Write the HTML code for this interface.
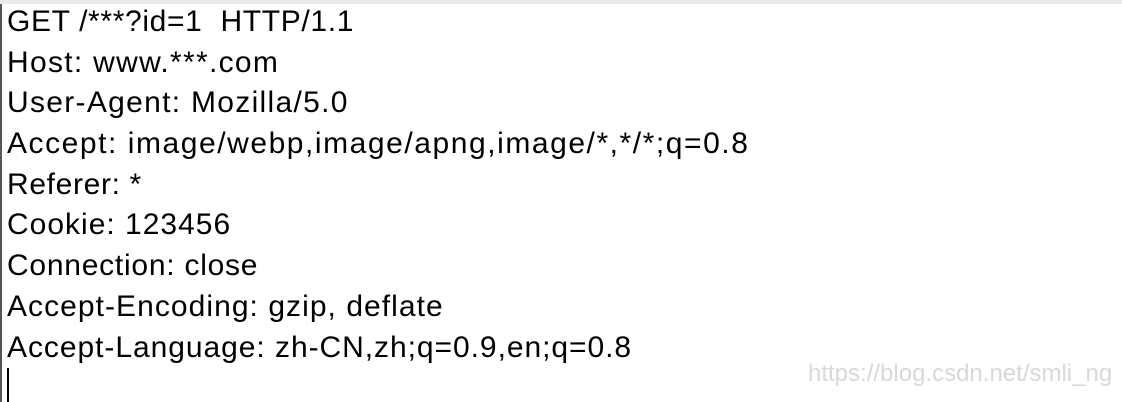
<!DOCTYPE html>
<html><head><style>
html,body{margin:0;padding:0;width:1122px;height:402px;overflow:hidden;background:#fff;}
.top{position:absolute;left:0;top:0;width:1122px;height:4px;background:#e9e9e9;}
.lb{position:absolute;left:0;top:4px;width:2px;height:398px;background:#555;}
.t{position:absolute;left:7px;top:2px;font-family:"Liberation Sans",sans-serif;font-size:30px;line-height:40.7px;letter-spacing:1.55px;color:#000;white-space:pre;}
.t div{height:40.7px;}
.cur{position:absolute;left:7px;top:368px;width:2px;height:34px;background:#000;}
.wm{position:absolute;left:808px;top:360px;font-family:"Liberation Sans",sans-serif;font-size:24px;color:#d8d8d8;}
</style></head><body>
<div class="top"></div><div class="lb"></div>
<div class="t"><div style="letter-spacing:0.65px">GET /***?id=1  HTTP/1.1</div><div style="letter-spacing:1.3px">Host: www.***.com</div><div style="letter-spacing:1.3px">User-Agent: Mozilla/5.0</div><div>Accept: image/webp,image/apng,image/*,*/*;q=0.8</div><div style="letter-spacing:0.65px">Referer: *</div><div style="letter-spacing:1.0px">Cookie: 123456</div><div style="letter-spacing:0.75px">Connection: close</div><div style="letter-spacing:1.05px">Accept-Encoding: gzip, deflate</div><div style="letter-spacing:0.95px">Accept-Language: zh-CN,zh;q=0.9,en;q=0.8</div></div>
<div class="cur"></div>
<div class="wm">https://blog.csdn.net/smli_ng</div>
</body></html>
